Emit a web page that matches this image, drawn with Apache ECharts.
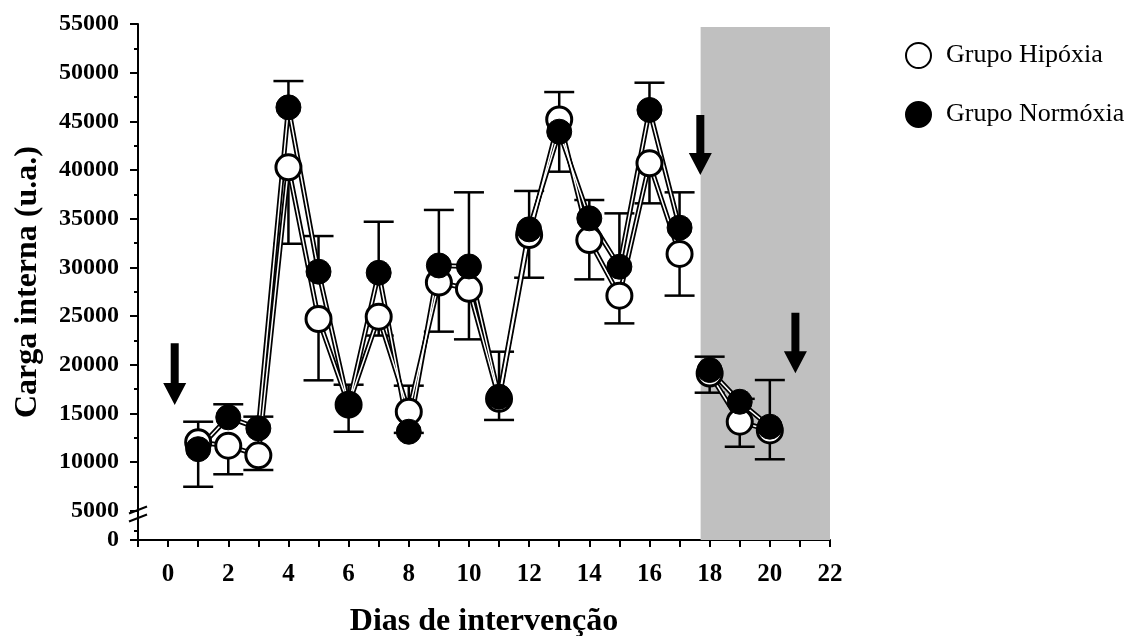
<!DOCTYPE html>
<html>
<head>
<meta charset="utf-8">
<script src="https://cdn.jsdelivr.net/npm/echarts@6/dist/echarts.min.js"></script>
<style>
  html, body { margin: 0; padding: 0; background: #fff; }
  #chart { width: 1144px; height: 636px; }
</style>
</head>
<body>
<div id="chart"></div>
<script>
// Carga interna diária (u.a.) por grupo, média e desvio padrão
const dias = [1, 2, 3, 4, 5, 6, 7, 8, 9, 10, 11, 12, 13, 14, 15, 16, 17, 18, 19, 20];
const hipoxia   = [12050, 11690, 10700, 40280, 24700, 15900, 24940, 15180, 28450, 27800,
                   16500, 33330, 45200, 32810, 27100, 40690, 31380, 19100, 14150, 13250];
const hipoxiaDP = [4580, 2940, 1510, 7850, 6300, 2780, 1940, 2180, 5050, 5190,
                   2170, 4390, 5370, 4040, 2850, 4110, 4280, 1970, 2570, 2960];
const normoxia   = [11330, 14600, 13470, 46440, 29560, 15870, 29450, 13120, 30200, 30100,
                    16720, 33910, 43940, 35040, 30070, 46170, 34080, 19460, 16200, 13640];
const normoxiaDP = [2820, 1340, 1200, 2700, 3660, 2080, 5240, 4730, 5700, 7610,
                    4620, 3940, 4070, 1880, 5480, 2800, 3630, 1370, 300, 4790];

// Eixos: o eixo Y é interrompido entre 0 e 5000 (o "0" fica na base)
const yBase = 2000;
const yTicks = [2000, 5000, 10000, 15000, 20000, 25000, 30000, 35000, 40000, 45000, 50000, 55000];
const yMinorTicks = [3000, 7500, 12500, 17500, 22500, 27500, 32500, 37500, 42500, 47500, 52500];
const xTicks = [-1, 0, 1, 2, 3, 4, 5, 6, 7, 8, 9, 10, 11, 12, 13, 14, 15, 16, 17, 18, 19, 20, 21, 22];
const xLabels = [0, 2, 4, 6, 8, 10, 12, 14, 16, 18, 20, 22];

// Período destacado em cinza [dia inicial, dia final, topo] e setas [dia, topo, ponta]
const faixa = [17.7, 22, 54700];
const setas = [[0.22, 22200, 15870], [17.69, 45650, 39490], [20.85, 25350, 19120]];
const corteEixo = [[-1, 4670]];

const fonte = "'Liberation Serif', 'Times New Roman', serif";

// Linha interrompida entre o dia 17 e o dia 18
function linha(valores) {
  const out = [];
  dias.forEach((d, i) => {
    if (d === 18) out.push([17.5, '-']);
    out.push([d, valores[i]]);
  });
  return out;
}
const pontos = (valores) => dias.map((d, i) => [d, valores[i]]);

function barraErro(params, api) {
  const a = api.coord([api.value(0), api.value(1)]);
  const b = api.coord([api.value(0), api.value(2)]);
  const hw = 15;
  const st = { stroke: '#000', lineWidth: 2.5 };
  return {
    type: 'group',
    children: [
      { type: 'line', shape: { x1: a[0], y1: a[1], x2: b[0], y2: b[1] }, style: st },
      { type: 'line', shape: { x1: b[0] - hw, y1: b[1], x2: b[0] + hw, y2: b[1] }, style: st }
    ]
  };
}

function seta(params, api) {
  const t = api.coord([api.value(0), api.value(1)]);
  const p = api.coord([api.value(0), api.value(2)]);
  const x = t[0], hs = 4, hh = 11.5, hl = 22;
  return {
    type: 'polygon',
    shape: { points: [
      [x - hs, t[1]], [x + hs, t[1]], [x + hs, p[1] - hl], [x + hh, p[1] - hl],
      [x, p[1]], [x - hh, p[1] - hl], [x - hs, p[1] - hl]
    ] },
    style: { fill: '#000' }
  };
}

function corte(params, api) {
  const c = api.coord([api.value(0), api.value(1)]);
  const st = { stroke: '#000', lineWidth: 2 };
  const mk = (cy) => ({ type: 'line', shape: { x1: c[0] - 9, y1: cy + 3.5, x2: c[0] + 9, y2: cy - 3.5 }, style: st });
  return { type: 'group', children: [mk(c[1] - 4), mk(c[1] + 4)] };
}

const chart = echarts.init(document.getElementById('chart'), null, { renderer: 'canvas' });

chart.setOption({
  animation: false,
  backgroundColor: '#fff',
  grid: { left: 138, right: 314, top: 24, bottom: 96, containLabel: false, outerBoundsMode: 'none' },
  legend: {
    data: ['Grupo Hipóxia', 'Grupo Normóxia'],
    orient: 'vertical',
    left: 900,
    top: 37,
    itemWidth: 25,
    itemHeight: 25,
    itemGap: 32,
    icon: 'circle',
    textStyle: { fontFamily: fonte, fontSize: 26, color: '#000', padding: [0, 0, 0, 10] }
  },
  xAxis: {
    type: 'value',
    min: -1,
    max: 22,
    name: 'Dias de intervenção',
    nameLocation: 'middle',
    nameGap: 66,
    nameTextStyle: { fontFamily: fonte, fontSize: 32, fontWeight: 'bold', color: '#000' },
    splitLine: { show: false },
    axisLine: { onZero: false, lineStyle: { color: '#000', width: 2 } },
    axisTick: { customValues: xTicks, length: 7, lineStyle: { color: '#000', width: 2 } },
    axisLabel: {
      customValues: xLabels,
      margin: 22,
      fontFamily: fonte, fontSize: 25, fontWeight: 'bold', color: '#000',
      formatter: (v) => String(v)
    }
  },
  yAxis: [{
    type: 'value',
    min: yBase,
    max: 55000,
    name: 'Carga interna (u.a.)',
    nameLocation: 'middle',
    nameRotate: 90,
    nameGap: 94,
    nameTextStyle: { fontFamily: fonte, fontSize: 32, fontWeight: 'bold', color: '#000' },
    splitLine: { show: false },
    axisLine: { onZero: false, lineStyle: { color: '#000', width: 2 } },
    axisTick: { customValues: yTicks, length: 8, lineStyle: { color: '#000', width: 2 } },
    axisLabel: {
      customValues: yTicks,
      margin: 19,
      padding: [4, 0, 0, 0],
      fontFamily: fonte, fontSize: 24, fontWeight: 'bold', color: '#000',
      formatter: (v) => (v === yBase ? '0' : String(v))
    }
  }, {
    type: 'value',
    position: 'left',
    offset: 0,
    min: yBase,
    max: 55000,
    splitLine: { show: false },
    axisLine: { show: false, onZero: false },
    axisLabel: { show: false },
    axisTick: { customValues: yMinorTicks, length: 4, lineStyle: { color: '#000', width: 2 } }
  }],
  series: [
    {
      name: 'faixa',
      type: 'line',
      data: [],
      z: 1,
      markArea: {
        silent: true,
        itemStyle: { color: '#c0c0c0' },
        data: [[{ xAxis: faixa[0], yAxis: faixa[2] }, { xAxis: faixa[1], yAxis: yBase }]]
      }
    },
    {
      name: 'erro-hipoxia',
      type: 'custom',
      z: 2,
      renderItem: barraErro,
      encode: { x: 0, y: [1, 2] },
      data: dias.map((d, i) => [d, hipoxia[i], hipoxia[i] - hipoxiaDP[i]])
    },
    {
      name: 'erro-normoxia',
      type: 'custom',
      z: 2,
      renderItem: barraErro,
      encode: { x: 0, y: [1, 2] },
      data: dias.map((d, i) => [d, normoxia[i], normoxia[i] + normoxiaDP[i]])
    },
    {
      name: 'linha-hipoxia',
      type: 'line', z: 3, symbol: 'none', connectNulls: false,
      lineStyle: { color: '#000', width: 5 },
      data: linha(hipoxia)
    },
    {
      name: 'linha-normoxia',
      type: 'line', z: 3, symbol: 'none', connectNulls: false,
      lineStyle: { color: '#000', width: 5 },
      data: linha(normoxia)
    },
    {
      name: 'miolo-hipoxia',
      type: 'line', z: 4, symbol: 'none', connectNulls: false,
      lineStyle: { color: '#fff', width: 1.5 },
      data: linha(hipoxia)
    },
    {
      name: 'miolo-normoxia',
      type: 'line', z: 4, symbol: 'none', connectNulls: false,
      lineStyle: { color: '#fff', width: 1.5 },
      data: linha(normoxia)
    },
    {
      name: 'Grupo Hipóxia',
      type: 'scatter', z: 5,
      symbol: 'circle', symbolSize: 25,
      itemStyle: { color: '#fff', borderColor: '#000', borderWidth: 3, opacity: 1 },
      data: pontos(hipoxia)
    },
    {
      name: 'Grupo Normóxia',
      type: 'scatter', z: 6,
      symbol: 'circle', symbolSize: 25,
      itemStyle: { color: '#000', borderColor: '#000', borderWidth: 1, opacity: 1 },
      data: pontos(normoxia)
    },
    {
      name: 'setas',
      type: 'custom', z: 7,
      renderItem: seta,
      encode: { x: 0, y: [1, 2] },
      data: setas
    },
    {
      name: 'corte',
      type: 'custom', z: 7,
      clip: false,
      renderItem: corte,
      data: corteEixo
    }
  ]
});
</script>
</body>
</html>
